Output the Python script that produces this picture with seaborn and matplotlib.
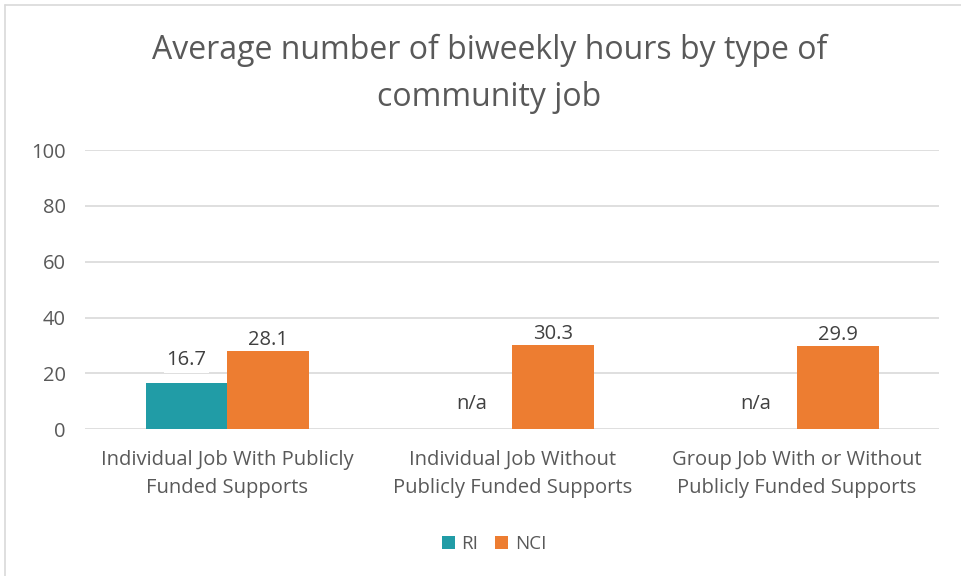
import matplotlib
matplotlib.use("Agg")
import matplotlib.pyplot as plt
import seaborn as sns
import pandas as pd
import numpy as np
from matplotlib.lines import Line2D
from matplotlib.patches import Patch

categories = ["Individual Job With Publicly\nFunded Supports",
              "Individual Job Without\nPublicly Funded Supports",
              "Group Job With or Without\nPublicly Funded Supports"]
series = ["RI", "NCI"]
ri_values = [16.7, np.nan, np.nan]
nci_values = [28.1, 30.3, 29.9]
colors = {"RI": "#219ca6", "NCI": "#ed7d31"}
yticks = [0, 20, 40, 60, 80, 100]
title = "Average number of biweekly hours by type of\ncommunity job"

df = pd.DataFrame({
    "category": categories * 2,
    "series": ["RI"] * 3 + ["NCI"] * 3,
    "value": ri_values + nci_values,
})

sns.set_theme(style="white")
plt.rcParams['font.family'] = ['Open Sans', 'DejaVu Sans']
text_color = "#595959"
label_color = "#404040"
fs = 14.5

fig = plt.figure(figsize=(9.61, 5.76), dpi=100)
ax = fig.add_axes([0.0885, 0.255, 0.889, 0.4844])

width = 0.575
sns.barplot(data=df, x="category", y="value", hue="series", hue_order=series,
            order=categories, palette=colors, width=width, ax=ax,
            saturation=1, legend=False, errorbar=None, linewidth=0, zorder=3)

ax.set_ylim(0, 100)
ax.set_yticks(yticks)
ax.set_xlim(-0.5, 2.5)
ax.yaxis.grid(True, color="#d9d9d9", linewidth=1.2, zorder=0)
ax.set_axisbelow(True)
for s in ax.spines.values():
    s.set_visible(False)
ax.tick_params(axis="both", length=0, colors=text_color, labelsize=fs)
ax.tick_params(axis="y", pad=14)
ax.tick_params(axis="x", pad=15)
ax.set_xlabel("")
ax.set_ylabel("")
for lab in ax.get_xticklabels():
    lab.set_linespacing(1.55)

# data labels
for i, (r, n) in enumerate(zip(ri_values, nci_values)):
    xr = i - width / 4
    xn = i + width / 4
    if np.isnan(r):
        ax.text(xr, 9, "n/a", ha="center", va="center", fontsize=fs,
                color=label_color, zorder=5)
    else:
        ax.text(xr, r + 4.5, f"{r}", ha="center", va="bottom", fontsize=fs,
                color=label_color, zorder=5,
                bbox=dict(facecolor="white", edgecolor="none", pad=2))
    ax.text(xn, n + 0.2, f"{n}", ha="center", va="bottom", fontsize=fs,
            color=label_color, zorder=5)

fig.text(489.5 / 961, 1 - 74 / 576, title, ha="center", va="center",
         fontsize=23, color=text_color, linespacing=1.55)

handles = [Patch(facecolor=colors[s], edgecolor="none") for s in series]
fig.legend(handles, series, loc="center", bbox_to_anchor=(494 / 961, 1 - 544 / 576),
           ncol=2, frameon=False, fontsize=13.5, handlelength=0.7, handleheight=0.7,
           columnspacing=0.9, handletextpad=0.35, labelcolor=text_color)

# chart border
fig.add_artist(Line2D([5 / 961, 5 / 961], [0, 1 - 5 / 576], color="#d9d9d9", lw=1.2,
                      transform=fig.transFigure))
fig.add_artist(Line2D([5 / 961, 1], [1 - 5 / 576, 1 - 5 / 576], color="#d9d9d9", lw=1.2,
                      transform=fig.transFigure))

fig.savefig("out.png", dpi=100, facecolor="white")
